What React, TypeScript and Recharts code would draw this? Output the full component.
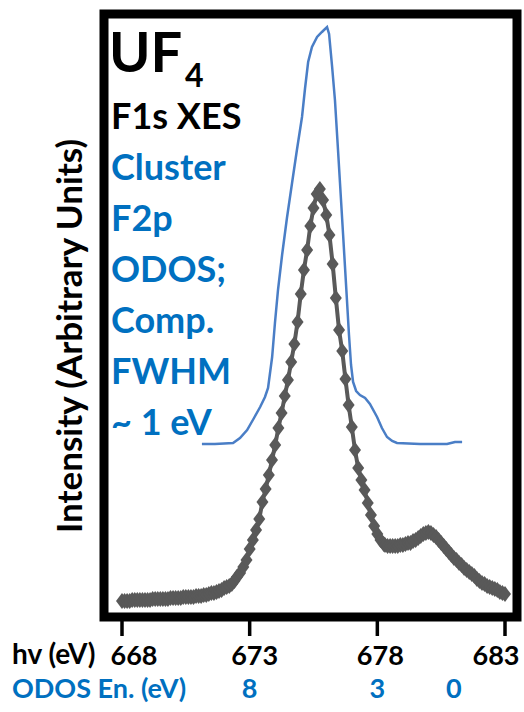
import React from "react";
import { LineChart, Line, XAxis, YAxis, ReferenceArea, Customized } from "recharts";

// ---- data (intensity in arbitrary units) ----
const grayEnergy = [
  668.0, 668.1, 668.2, 668.3, 668.4, 668.5, 668.6, 668.7, 668.8, 668.9,
  669.0, 669.1, 669.2, 669.3, 669.4, 669.5, 669.6, 669.7, 669.8, 669.9,
  670.0, 670.1, 670.2, 670.3, 670.4, 670.5, 670.6, 670.7, 670.8, 670.9,
  671.0, 671.1, 671.2, 671.3, 671.4, 671.5, 671.6, 671.7, 671.8, 671.9,
  672.0, 672.1, 672.2, 672.3, 672.4,
  672.5, 672.625, 672.75, 672.875,
  673.0, 673.125, 673.25, 673.375, 673.5, 673.625, 673.75, 673.875, 674.0, 674.125, 674.25,
  674.375, 674.5, 674.625, 674.75, 674.875, 675.0, 675.125, 675.25, 675.375, 675.5, 675.625,
  675.75, 675.875, 676.0, 676.125, 676.25, 676.375, 676.5, 676.625, 676.75, 676.875, 677.0,
  677.125, 677.25, 677.375, 677.5, 677.625, 677.75, 677.875, 678.0, 678.125, 678.25,
  678.3, 678.4, 678.5, 678.6, 678.7, 678.8, 678.9,
  679.0, 679.1, 679.2, 679.3, 679.4, 679.5, 679.6, 679.7, 679.8, 679.9,
  680.0, 680.1, 680.2, 680.3, 680.4, 680.5, 680.6, 680.7, 680.8, 680.9,
  681.0, 681.1, 681.2, 681.3, 681.4, 681.5, 681.6, 681.7, 681.8, 681.9,
  682.0, 682.1, 682.2, 682.3, 682.4, 682.5, 682.6, 682.7, 682.8, 682.9,
  683.0,
];
const grayIntensity = [
  16, 16, 16, 16, 17, 17, 17, 17, 17, 17,
  17, 17, 18, 18, 18, 18, 18, 18, 18, 19,
  19, 19, 19, 19, 20, 20, 20, 20, 20, 21,
  21, 21, 22, 22, 23, 24, 24, 25, 26, 27,
  29, 30, 31, 33, 36,
  40, 44, 50, 57,
  68, 77, 87, 98, 115, 128, 142, 157, 172, 189, 204,
  221, 237, 255, 273, 295, 323, 347, 367, 391, 409, 423,
  428, 417, 402, 382, 353, 319, 287, 266, 238, 212, 190,
  167, 149, 137, 127, 114, 102, 91, 83, 77, 73,
  72, 71, 71, 71, 71, 71, 72,
  72, 73, 74, 74, 76, 77, 79, 81, 83, 84,
  85, 84, 82, 80, 77, 74, 71, 68, 65, 62,
  59, 57, 54, 52, 49, 47, 45, 43, 41, 38,
  36, 34, 33, 31, 30, 29, 28, 27, 25, 24,
  23,
];

const blueEnergy = [
  671.13, 671.64, 672.35, 672.62, 672.9, 673.17, 673.41, 673.6, 673.72, 673.88, 673.99,
  674.11, 674.27, 674.46, 674.66, 674.85, 675.05, 675.17, 675.29, 675.44, 675.64, 675.83,
  676.03, 676.11, 676.23, 676.34, 676.46, 676.66, 676.81, 676.89, 676.97, 677.05, 677.17,
  677.32, 677.52, 677.71, 677.99, 678.18, 678.38, 678.58, 678.77, 679.67, 680.73, 681.04,
  681.32,
];
const blueIntensity = [
  173, 173, 174, 179, 187, 199, 210, 220, 229, 260, 294,
  327, 362, 399, 434, 467, 500, 529, 555, 570, 580, 585,
  590, 583, 550, 517, 467, 382, 317, 282, 252, 235, 226,
  222, 219, 213, 200, 189, 180, 176, 174, 173, 173, 175,
  175,
];

const hvTicks = [668, 673, 678, 683];
const odosTicks = [673, 678, 681];
const odosLabels = ["8", "3", "0"];

const titleMain = "UF";
const titleSub = "4";
const blackLines = ["F1s XES"];
const blueLines = ["Cluster", "F2p", "ODOS;", "Comp.", "FWHM", "~ 1 eV"];
const yTitle = "Intensity (Arbitrary Units)";
const hvTitle = "hv (eV)";
const odosTitle = "ODOS En. (eV)";

const grayData = grayEnergy.map((x, i) => ({ x, y: grayIntensity[i] }));
const blueData = blueEnergy.map((x, i) => ({ x, y: blueIntensity[i] }));

// ---- styling ----
const FONT = "Lato, 'Open Sans', sans-serif";
const BLUE_TEXT = "#0070C0";
const BLUE_LINE = "#4A7EC6";
const GRAY = "#595959";
const X_DOMAIN: [number, number] = [667.295, 683.47];
const Y_DOMAIN: [number, number] = [0, 603];
const hvLabelShift = [12, 5, 3, -9];
const AXIS_FONT = 27;

const Diamond = (props: any) => {
  const { cx, cy, index } = props;
  if (cx == null || cy == null) return <g key={`dm-${index}`} />;
  const w = 6;
  const h = 8;
  return (
    <path
      key={`dm-${index}`}
      d={`M${cx},${cy - h}L${cx + w},${cy}L${cx},${cy + h}L${cx - w},${cy}Z`}
      fill={GRAY}
    />
  );
};

const HvTick = (props: any) => {
  const { x, y, payload, index } = props;
  return (
    <text
      x={x + (hvLabelShift[index] || 0)}
      y={y}
      dy="0.71em"
      textAnchor="middle"
      fill="#000"
      fontSize={AXIS_FONT}
      fontWeight={700}
      fontFamily={FONT}
    >
      {payload.value}
    </text>
  );
};

const OdosTick = (props: any) => {
  const { x, y, index } = props;
  return (
    <text
      x={x}
      y={y}
      dy="0.71em"
      textAnchor="middle"
      fill={BLUE_TEXT}
      fontSize={AXIS_FONT}
      fontWeight={700}
      fontFamily={FONT}
    >
      {odosLabels[index]}
    </text>
  );
};

const Annotations = () => (
  <g fontFamily={FONT} fontWeight={700}>
    <text x={109} y={72} fontSize={56} fill="#000">
      {titleMain}
    </text>
    <text x={185} y={87} fontSize={32} fill="#000">
      {titleSub}
    </text>
    {blackLines.map((t, i) => (
      <text key={t} x={111} y={129 + i * 51} fontSize={36} fill="#000">
        {t}
      </text>
    ))}
    {blueLines.map((t, i) => (
      <text key={t} x={111} y={180 + i * 51} fontSize={36} fill={BLUE_TEXT}>
        {t}
      </text>
    ))}
    <text
      x={68}
      y={336}
      transform="rotate(-90, 68, 336)"
      textAnchor="middle"
      dominantBaseline="central"
      fontSize={35}
      fill="#000"
    >
      {yTitle}
    </text>
    <text x={12} y={664} fontSize={AXIS_FONT + 1} fill="#000">
      {hvTitle}
    </text>
    <text x={12} y={698} fontSize={AXIS_FONT} fill={BLUE_TEXT}>
      {odosTitle}
    </text>
  </g>
);

export default function App() {
  return (
    <div style={{ position: "absolute", left: 0, top: 0, width: 524, height: 712, background: "#fff" }}>
      <LineChart
        width={524}
        height={712}
        margin={{ top: 14, right: 7, left: 104, bottom: 20 }}
      >
        <XAxis
          xAxisId="hv"
          type="number"
          dataKey="x"
          domain={X_DOMAIN}
          allowDataOverflow
          ticks={hvTicks}
          axisLine={false}
          tickLine={{ stroke: "#000", strokeWidth: 3.5 }}
          tickSize={19}
          tickMargin={10}
          tick={<HvTick />}
          height={40}
          interval={0}
        />
        <XAxis
          xAxisId="odos"
          type="number"
          dataKey="x"
          domain={X_DOMAIN}
          allowDataOverflow
          ticks={odosTicks}
          axisLine={false}
          tickLine={false}
          tickSize={10}
          tickMargin={12}
          tick={<OdosTick />}
          height={35}
          interval={0}
        />
        <YAxis yAxisId="i" type="number" domain={Y_DOMAIN} allowDataOverflow hide />
        <ReferenceArea
          xAxisId="hv"
          yAxisId="i"
          x1={X_DOMAIN[0]}
          x2={X_DOMAIN[1]}
          y1={Y_DOMAIN[0]}
          y2={Y_DOMAIN[1]}
          fill="none"
          fillOpacity={0}
          stroke="#000"
          strokeWidth={9}
          ifOverflow="visible"
        />
        <Line
          xAxisId="hv"
          yAxisId="i"
          data={blueData}
          dataKey="y"
          type="linear"
          stroke={BLUE_LINE}
          strokeWidth={2.5}
          dot={false}
          activeDot={false}
          isAnimationActive={false}
        />
        <Line
          xAxisId="hv"
          yAxisId="i"
          data={grayData}
          dataKey="y"
          type="linear"
          stroke={GRAY}
          strokeWidth={4}
          dot={<Diamond />}
          activeDot={false}
          isAnimationActive={false}
        />
        <Customized component={<Annotations />} />
      </LineChart>
    </div>
  );
}
